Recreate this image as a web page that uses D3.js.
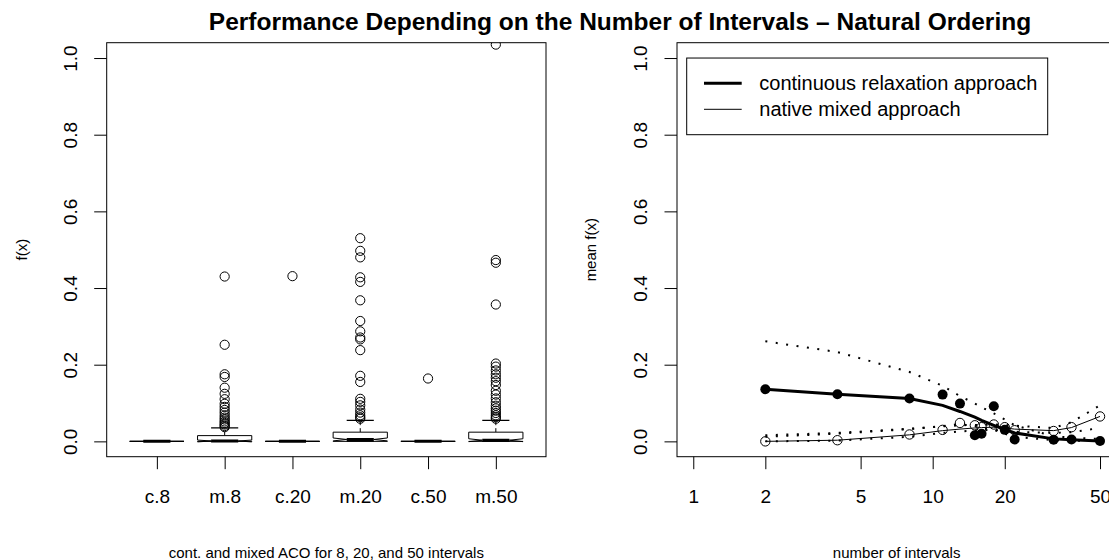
<!DOCTYPE html>
<html>
<head>
<meta charset="utf-8">
<script src="https://cdn.jsdelivr.net/npm/d3@7"></script>
<style>
body { margin: 0; background: #fff; }
svg { display: block; font-family: "Liberation Sans", Arial, sans-serif; }
</style>
</head>
<body>
<div id="chart"></div>
<script>
//left panel: boxplot stats, one entry per group
var groups = ["c.8", "m.8", "c.20", "m.20", "c.50", "m.50"];
var lowWhisker = [0, 0, 0, 0, 0, 0];
var lowerQuartile = [0, 0, 0, 0, 0, 0];
var medians = [0, 0.001, 0, 0.005, 0, 0.003];
var upperQuartile = [0, 0.015, 0, 0.024, 0, 0.024];
var highWhisker = [0, 0.035, 0, 0.055, 0, 0.055];
var runs = [100, 100, 100, 100, 100, 100];
var outliers = [
    [],
    [0.43, 0.252, 0.175, 0.168, 0.14, 0.124, 0.11, 0.098, 0.09, 0.082, 0.075, 0.068, 0.062, 0.057, 0.052, 0.048, 0.044, 0.04, 0.037],
    [0.431],
    [0.53, 0.497, 0.48, 0.428, 0.416, 0.368, 0.314, 0.287, 0.271, 0.266, 0.238, 0.171, 0.155, 0.111, 0.103, 0.094, 0.083, 0.075, 0.068, 0.063, 0.059],
    [0.164],
    [1.035, 0.473, 0.466, 0.357, 0.203, 0.195, 0.185, 0.175, 0.166, 0.157, 0.147, 0.132, 0.122, 0.112, 0.102, 0.093, 0.086, 0.08, 0.074, 0.068, 0.063, 0.059]
];
var yTicks = [0, 0.2, 0.4, 0.6, 0.8, 1.0];

//right panel: mean f(x) per number of intervals
var intervals = [2, 4, 8, 11, 13, 15, 16, 18, 20, 22, 32, 38, 50];
var intervalTicks = [1, 2, 5, 10, 20, 50];
var contMeans = [0.136, 0.123, 0.112, 0.122, 0.0985, 0.016, 0.02, 0.0915, 0.03, 0.005, 0.004, 0.005, 0.001];
var mixMeans = [0.0, 0.003, 0.018, 0.03, 0.048, 0.042, 0.037, 0.044, 0.037, 0.029, 0.027, 0.037, 0.065];
var contSmooth = [0.136, 0.123, 0.112, 0.094, 0.078, 0.063, 0.055, 0.042, 0.031, 0.022, 0.0065, 0.004, 0.001];
var mixSmooth = [0.0, 0.003, 0.017, 0.028, 0.032, 0.035, 0.036, 0.037, 0.035, 0.032, 0.028, 0.036, 0.065];
var contUpper = [0.261, 0.233, 0.181, 0.145, 0.118, 0.099, 0.089, 0.073, 0.057, 0.042, 0.013, 0.01, 0.006];
var contLower = [0.012, 0.02, 0.032, 0.04, 0.045, 0.04, 0.035, 0.03, 0.02, 0.012, 0.003, 0.002, 0.0];
var mixUpper = [0.016, 0.022, 0.033, 0.039, 0.042, 0.043, 0.043, 0.044, 0.043, 0.041, 0.035, 0.05, 0.094];
var mixLower = [0.0, 0.002, 0.012, 0.022, 0.026, 0.028, 0.029, 0.03, 0.028, 0.025, 0.022, 0.024, 0.035];
var legendLabels = ["continuous relaxation approach", "native mixed approach"];

var width = 1109;
var height = 560;
var plotTop = 42.7, plotBottom = 456.7;
var tickLen = 12.5;

var svg = d3.select('#chart')
    .append('svg')
    .attr('width', width)
    .attr('height', height);

svg.append('text')
    .attr('x', 620)
    .attr('y', 30)
    .attr('text-anchor', 'middle')
    .style('font-size', '24.5px')
    .style('font-weight', 'bold')
    .text('Performance Depending on the Number of Intervals \u2013 Natural Ordering');

//shared y axis drawing (R style, rotated labels)
function drawY(g, y, left) {
    var ax = g.append('g')
        .attr('transform', 'translate(' + left + ',0)')
        .call(d3.axisLeft(y).tickValues(yTicks).tickSize(tickLen).tickFormat(d3.format('.1f')));
    ax.select('.domain').remove();
    ax.selectAll('line').attr('stroke', '#000');
    ax.selectAll('text')
        .attr('x', null).attr('dy', '0.35em')
        .attr('transform', 'translate(-36.5,0) rotate(-90)')
        .attr('text-anchor', 'middle')
        .attr('fill', '#000')
        .style('font-size', '19px')
        .style('font-family', '"Liberation Sans", Arial, sans-serif');
}

function frame(g, x0, x1, id) {
    g.append('clipPath').attr('id', id)
        .append('rect').attr('x', x0).attr('y', plotTop).attr('width', x1 - x0).attr('height', plotBottom - plotTop);
    g.append('rect')
        .attr('x', x0).attr('y', plotTop)
        .attr('width', x1 - x0).attr('height', plotBottom - plotTop)
        .attr('fill', 'none').attr('stroke', '#000').attr('stroke-width', 1);
}

//LEFT PANEL
var x = d3.scaleLinear().domain([0.26, 6.74]).range([106.7, 546]);
var y = d3.scaleLinear().domain([-0.04, 1.04]).range([plotBottom, plotTop]);
var left = svg.append('g');
frame(left, 106.7, 546, 'clipL');
drawY(left, y, 106.7);

var xAx = left.append('g')
    .attr('transform', 'translate(0,' + plotBottom + ')')
    .call(d3.axisBottom(x).tickValues(d3.range(1, groups.length + 1)).tickSize(tickLen).tickFormat(function (d) { return groups[d - 1]; }));
xAx.select('.domain').remove();
xAx.selectAll('line').attr('stroke', '#000');
xAx.selectAll('text')
    .attr('y', 39.3).attr('dy', '0.35em')
    .attr('fill', '#000')
    .style('font-size', '19px')
    .style('font-family', '"Liberation Sans", Arial, sans-serif');

var boxes = left.append('g').attr('clip-path', 'url(#clipL)')
    .selectAll('g')
    .data(groups)
    .enter()
    .append('g');

var wid = x(1.4) - x(1); //half box width (boxwex 0.8)

boxes.each(function (d, i) {
    var g = d3.select(this);
    var cx = x(i + 1);
    var iqr = upperQuartile[i] - lowerQuartile[i];
    var lo = medians[i] - 1.58 * iqr / Math.sqrt(runs[i]);
    var hi = medians[i] + 1.58 * iqr / Math.sqrt(runs[i]);
    //whiskers
    g.append('line')
        .attr('x1', cx).attr('x2', cx)
        .attr('y1', y(upperQuartile[i])).attr('y2', y(highWhisker[i]))
        .attr('stroke', '#000').attr('stroke-dasharray', '4,3');
    g.append('line')
        .attr('x1', cx).attr('x2', cx)
        .attr('y1', y(lowerQuartile[i])).attr('y2', y(lowWhisker[i]))
        .attr('stroke', '#000').attr('stroke-dasharray', '4,3');
    [highWhisker[i], lowWhisker[i]].forEach(function (v) {
        g.append('line')
            .attr('x1', cx - wid / 2).attr('x2', cx + wid / 2)
            .attr('y1', y(v)).attr('y2', y(v))
            .attr('stroke', '#000').attr('stroke-width', 1.3);
    });
    //notched box
    var pts = [
        [cx - wid, y(lowerQuartile[i])], [cx + wid, y(lowerQuartile[i])],
        [cx + wid, y(lo)], [cx + wid / 2, y(medians[i])], [cx + wid, y(hi)],
        [cx + wid, y(upperQuartile[i])], [cx - wid, y(upperQuartile[i])],
        [cx - wid, y(hi)], [cx - wid / 2, y(medians[i])], [cx - wid, y(lo)]
    ];
    g.append('polygon')
        .attr('points', pts.map(function (p) { return p.join(','); }).join(' '))
        .attr('fill', '#fff').attr('stroke', '#000').attr('stroke-width', 1);
    g.append('line')
        .attr('x1', cx - wid / 2).attr('x2', cx + wid / 2)
        .attr('y1', y(medians[i])).attr('y2', y(medians[i]))
        .attr('stroke', '#000').attr('stroke-width', 3);
    g.selectAll('circle')
        .data(outliers[i])
        .enter()
        .append('circle')
        .attr('cx', cx)
        .attr('cy', function (v) { return y(v); })
        .attr('r', 4.6)
        .attr('fill', 'none')
        .attr('stroke', '#000')
        .attr('stroke-width', 1);
});

left.append('text')
    .attr('transform', 'translate(21.7,' + ((plotTop + plotBottom) / 2) + ') rotate(-90)')
    .attr('text-anchor', 'middle').attr('dy', '0.35em')
    .style('font-size', '15px')
    .text('f(x)');
left.append('text')
    .attr('x', (106.7 + 546) / 2).attr('y', 558)
    .attr('text-anchor', 'middle')
    .style('font-size', '15px')
    .text('cont. and mixed ACO for 8, 20, and 50 intervals');

//RIGHT PANEL
var lx0 = -0.04 * Math.log10(50);
var lx1 = 1.04 * Math.log10(50);
var xr = d3.scaleLog().domain([Math.pow(10, lx0), Math.pow(10, lx1)]).range([677, 1116.3]);
var right = svg.append('g');
frame(right, 677, 1116.3, 'clipR');
drawY(right, y, 677);

var xrAx = right.append('g')
    .attr('transform', 'translate(0,' + plotBottom + ')')
    .call(d3.axisBottom(xr).tickValues(intervalTicks).tickSize(tickLen).tickFormat(d3.format('d')));
xrAx.select('.domain').remove();
xrAx.selectAll('line').attr('stroke', '#000');
xrAx.selectAll('text')
    .attr('y', 39.3).attr('dy', '0.35em')
    .attr('fill', '#000')
    .style('font-size', '19px')
    .style('font-family', '"Liberation Sans", Arial, sans-serif');

var plot = right.append('g').attr('clip-path', 'url(#clipR)');

function series(vals) {
    return intervals.map(function (n, i) { return [n, vals[i]]; });
}
var line = d3.line()
    .x(function (d) { return xr(d[0]); })
    .y(function (d) { return y(d[1]); });

[contUpper, contLower, mixUpper, mixLower].forEach(function (band) {
    plot.append('path')
        .attr('d', line(series(band)))
        .attr('fill', 'none')
        .attr('stroke', '#000')
        .attr('stroke-width', 2)
        .attr('stroke-dasharray', '2,8.5');
});
plot.append('path')
    .attr('d', line(series(contSmooth)))
    .attr('fill', 'none').attr('stroke', '#000').attr('stroke-width', 3);
plot.append('path')
    .attr('d', line(series(mixSmooth)))
    .attr('fill', 'none').attr('stroke', '#000').attr('stroke-width', 1);

plot.selectAll('.cont')
    .data(series(contMeans))
    .enter()
    .append('circle')
    .attr('class', 'cont')
    .attr('cx', function (d) { return xr(d[0]); })
    .attr('cy', function (d) { return y(d[1]); })
    .attr('r', 5)
    .attr('fill', '#000');
plot.selectAll('.mix')
    .data(series(mixMeans))
    .enter()
    .append('circle')
    .attr('class', 'mix')
    .attr('cx', function (d) { return xr(d[0]); })
    .attr('cy', function (d) { return y(d[1]); })
    .attr('r', 4.7)
    .attr('fill', 'none')
    .attr('stroke', '#000')
    .attr('stroke-width', 1);

//LEGEND
var legend = right.append('g');
legend.append('rect')
    .attr('x', 686.7).attr('y', y(1))
    .attr('width', 1047.7 - 686.7).attr('height', y(0.8) - y(1))
    .attr('fill', '#fff').attr('stroke', '#000');
var legendRow = legend.selectAll('.legend')
    .data(legendLabels)
    .enter()
    .append('g')
    .attr('class', 'legend')
    .attr('transform', function (d, i) { return 'translate(0,' + (83.3 + i * 26) + ')'; });
legendRow.append('line')
    .attr('x1', 704).attr('x2', 741.7)
    .attr('stroke', '#000')
    .attr('stroke-width', function (d, i) { return i === 0 ? 3 : 1; });
legendRow.append('text')
    .attr('x', 759.3).attr('dy', '0.35em')
    .style('font-size', '20px')
    .text(function (d) { return d; });

right.append('text')
    .attr('transform', 'translate(591,' + ((plotTop + plotBottom) / 2) + ') rotate(-90)')
    .attr('text-anchor', 'middle').attr('dy', '0.35em')
    .style('font-size', '15px')
    .text('mean f(x)');
right.append('text')
    .attr('x', (677 + 1116.3) / 2).attr('y', 558)
    .attr('text-anchor', 'middle')
    .style('font-size', '15px')
    .text('number of intervals');
</script>
</body>
</html>
